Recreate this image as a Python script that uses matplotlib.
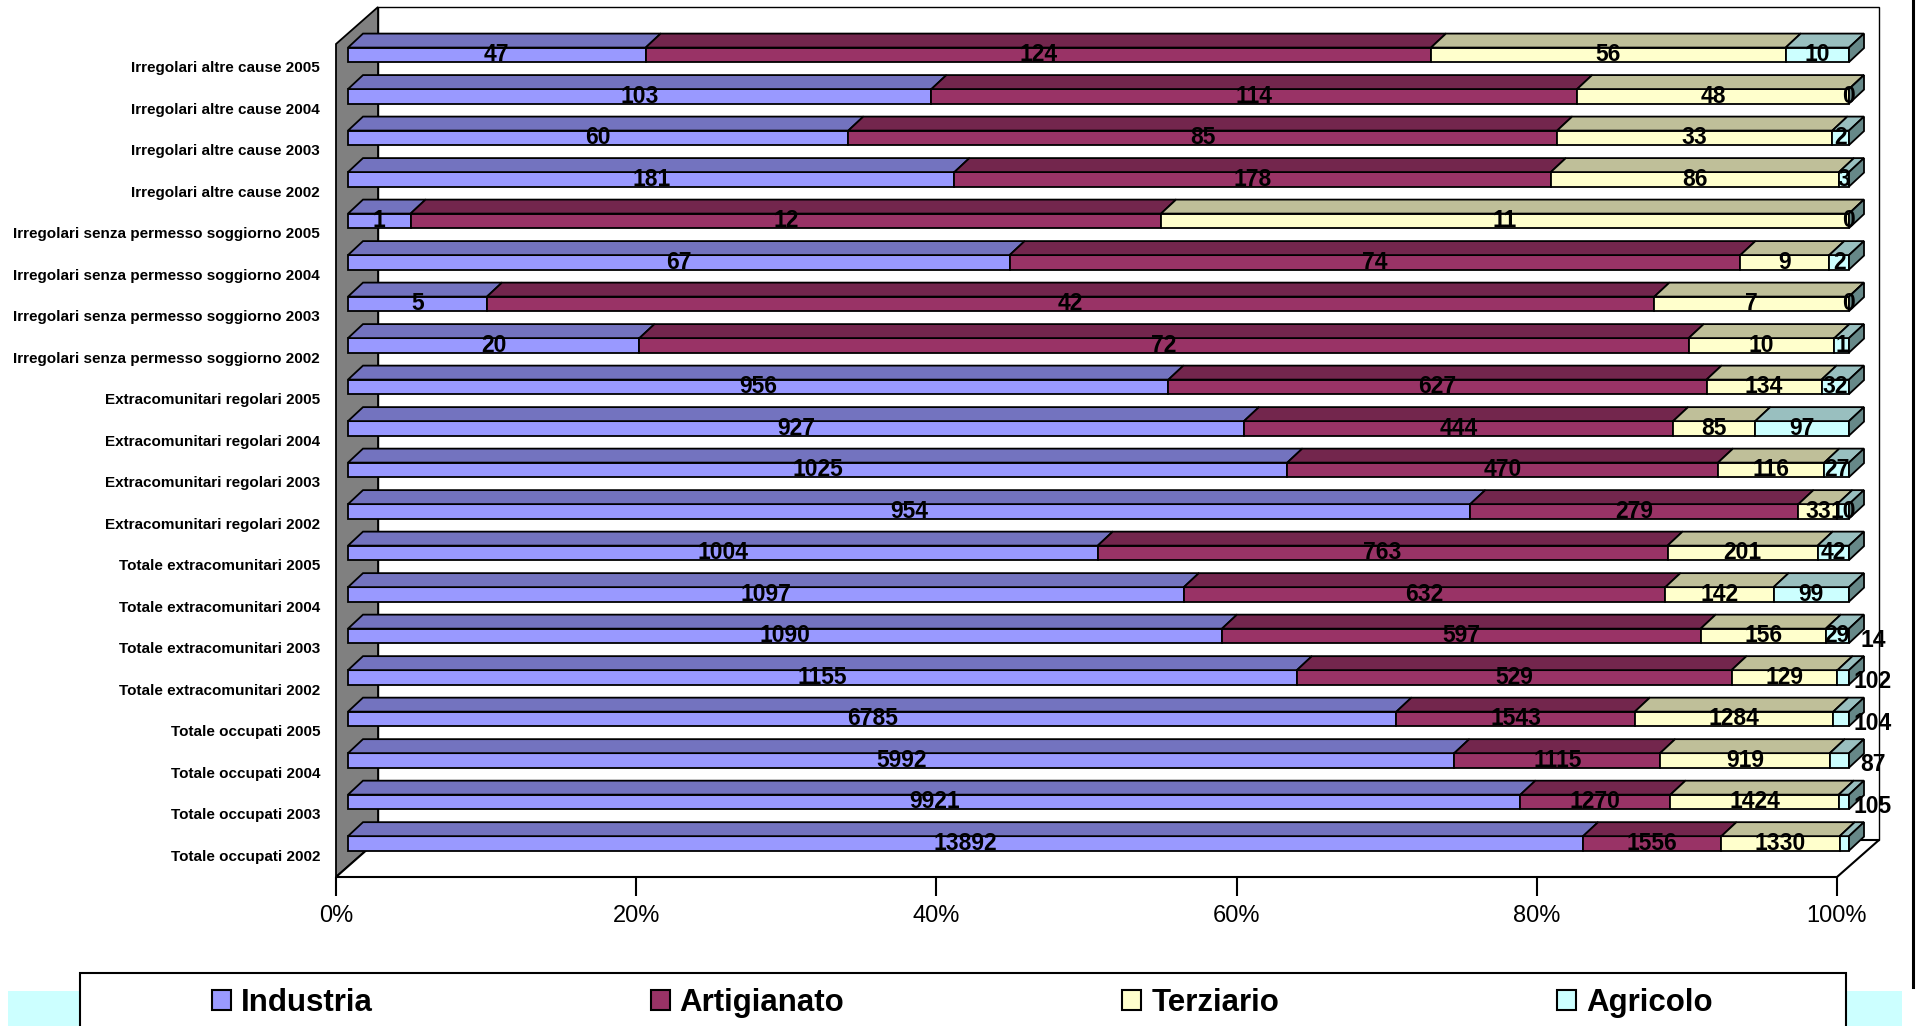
import matplotlib
matplotlib.use("Agg")
import matplotlib.pyplot as plt
from matplotlib.patches import Polygon, Rectangle
from matplotlib.lines import Line2D

plt.rcParams['font.family'] = ['Liberation Sans', 'DejaVu Sans']

categories = [
    "Irregolari altre cause 2005",
    "Irregolari altre cause 2004",
    "Irregolari altre cause 2003",
    "Irregolari altre cause 2002",
    "Irregolari senza permesso soggiorno 2005",
    "Irregolari senza permesso soggiorno 2004",
    "Irregolari senza permesso soggiorno 2003",
    "Irregolari senza permesso soggiorno 2002",
    "Extracomunitari regolari 2005",
    "Extracomunitari regolari 2004",
    "Extracomunitari regolari 2003",
    "Extracomunitari regolari 2002",
    "Totale extracomunitari 2005",
    "Totale extracomunitari 2004",
    "Totale extracomunitari 2003",
    "Totale extracomunitari 2002",
    "Totale occupati 2005",
    "Totale occupati 2004",
    "Totale occupati 2003",
    "Totale occupati 2002",
]
industria = [47, 103, 60, 181, 1, 67, 5, 20, 956, 927, 1025, 954,
             1004, 1097, 1090, 1155, 6785, 5992, 9921, 13892]
artigianato = [124, 114, 85, 178, 12, 74, 42, 72, 627, 444, 470, 279,
               763, 632, 597, 529, 1543, 1115, 1270, 1556]
terziario = [56, 48, 33, 86, 11, 9, 7, 10, 134, 85, 116, 33,
             201, 142, 156, 129, 1284, 919, 1424, 1330]
agricolo = [10, 0, 2, 3, 0, 2, 0, 1, 32, 97, 27, 10,
            42, 99, 29, 14, 102, 104, 87, 105]
series_names = ["Industria", "Artigianato", "Terziario", "Agricolo"]
x_ticks = [0, 20, 40, 60, 80, 100]

# face colours: front, top (darker) and side (darkest)
front_colors = ['#9999FF', '#993366', '#FFFFCC', '#CCFFFF']
top_colors = ['#7373BF', '#73264D', '#BFBF99', '#99BFBF']
side_color = '#668888'

# rows whose last label sits outside, beyond the end of the bar
outside_label_rows = [15, 16, 17, 18, 19]

W, H = 1916, 1026
fig = plt.figure(figsize=(W / 100, H / 100), dpi=100)
fig.patch.set_facecolor('white')

ax_left, ax_right, ax_top, ax_bottom = 336, 1837, 44, 877
ax = fig.add_axes([ax_left / W, (H - ax_bottom) / H,
                   (ax_right - ax_left) / W, (ax_bottom - ax_top) / H])
n = len(categories)
y0, y1 = -0.52, n - 1 + 0.55
ax.set_xlim(0, 100)
ax.set_ylim(y0, y1)
ax.set_frame_on(False)

px_x = (ax_right - ax_left) / 100.0
px_y = (ax_bottom - ax_top) / (y1 - y0)


def dx(p):
    return p / px_x


def dy(p):
    return p / px_y


# walls and floor
wdx, wdy = dx(42), dy(37)
ax.add_patch(Rectangle((wdx, y0 + wdy), 100, y1 - y0, facecolor='white',
                       edgecolor='black', lw=1.0, clip_on=False, zorder=0))
ax.add_patch(Polygon([(0, y0), (0, y1), (wdx, y1 + wdy), (wdx, y0 + wdy)],
                     closed=True, facecolor='#808080', edgecolor='black',
                     lw=1.3, clip_on=False, zorder=1))
ax.add_patch(Polygon([(0, y0), (100, y0), (100 + wdx, y0 + wdy), (wdx, y0 + wdy)],
                     closed=True, facecolor='white', edgecolor='black',
                     lw=1.5, clip_on=False, zorder=1))

# bars
bx, by = dx(12), dy(12)
bdx, bdy = dx(15), dy(14)
bh = dy(14.5)
series = [industria, artigianato, terziario, agricolo]
ypos = [n - 1 - i for i in range(n)]

for i in range(n):
    vals = [s[i] for s in series]
    total = float(sum(vals))
    yc = ypos[i] + by
    yt = yc + bh / 2
    yb = yc - bh / 2
    left = 0.0
    for k, v in enumerate(vals):
        pct = v / total * 100
        x0 = left + bx
        x1 = x0 + pct
        ax.barh(yc, pct, left=x0, height=bh, color=front_colors[k],
                edgecolor='black', lw=1.3, zorder=3, clip_on=False)
        ax.add_patch(Polygon([(x0, yt), (x1, yt), (x1 + bdx, yt + bdy), (x0 + bdx, yt + bdy)],
                             closed=True, facecolor=top_colors[k], edgecolor='black',
                             lw=1.3, zorder=3, clip_on=False))
        if k == len(vals) - 1 and i in outside_label_rows:
            tx, ty = 100 + bx + dx(24), yc + dy(37)
        else:
            tx, ty = x0 + pct / 2, yc
        ax.text(tx, ty, str(v), ha='center', va='center', fontsize=16.5,
                fontweight='bold', color='black', zorder=6, clip_on=False)
        left += pct
    xe = 100 + bx
    ax.add_patch(Polygon([(xe, yb), (xe, yt), (xe + bdx, yt + bdy), (xe + bdx, yb + bdy)],
                         closed=True, facecolor=side_color, edgecolor='black',
                         lw=1.3, zorder=3, clip_on=False))

ax.set_xticks(x_ticks)
ax.set_xticklabels([f"{t}%" for t in x_ticks], fontsize=17)
ax.tick_params(axis='x', length=14, width=1.5, direction='out', pad=5.8)
ax.set_yticks(ypos)
ax.set_yticklabels(categories, fontsize=11, fontweight='bold')
ax.tick_params(axis='y', length=0, pad=11.5)

# legend strip at the bottom
for x_a, x_b in [(8, 80), (1846, 1902)]:
    fig.add_artist(Rectangle((x_a / W, 0), (x_b - x_a) / W, (H - 991) / H,
                             transform=fig.transFigure, facecolor='#CCFFFF',
                             edgecolor='none', zorder=0))
fig.add_artist(Rectangle((80 / W, -0.05), (1846 - 80) / W, (H - 973) / H + 0.05,
                         transform=fig.transFigure, facecolor='white',
                         edgecolor='black', lw=1.5, zorder=1))
fig.add_artist(Line2D([1913 / W, 1913 / W], [1 - 987 / H, 1.0],
                      transform=fig.transFigure, color='black', lw=2.2))

handles = [Rectangle((0, 0), 1, 1, facecolor=c, edgecolor='black', lw=1.5)
           for c in front_colors]
leg = fig.legend(handles, series_names, loc='center left',
                 bbox_to_anchor=(212 / W, 1 - 1003 / H), ncol=4, frameon=False,
                 prop=dict(weight='bold', size=22.5), handlelength=0.6,
                 handleheight=0.6, handletextpad=0.32, columnspacing=8.9,
                 borderpad=0, borderaxespad=0)
leg.set_zorder(2)

fig.savefig("out.png", dpi=100)
